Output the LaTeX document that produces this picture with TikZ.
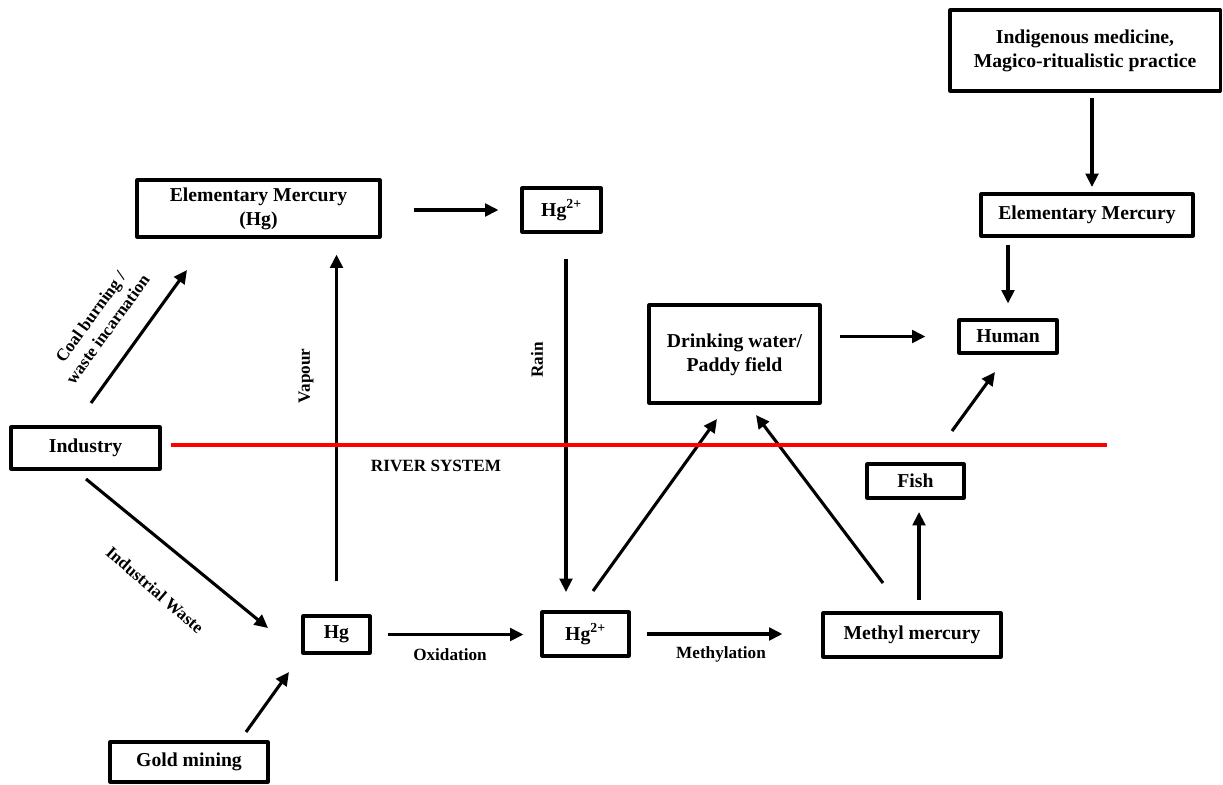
\documentclass[tikz,border=0pt]{standalone}
\usepackage{fontspec}
\setmainfont{Liberation Serif}
\usetikzlibrary{arrows.meta}
\newcommand{\printBox}[6]{\node [cell, minimum width=#3cm, minimum height=#4cm] (#5) at (#1,#2) {#6};}

\begin{document}
\begin{tikzpicture}[x=0.025cm,y=-0.025cm,line join=round,>={Triangle[length=9.5pt,width=9pt]},
    cell/.style={draw=black,line width=2.2pt,align=center,inner sep=0pt,font=\bfseries\fontsize{14}{17}\selectfont},
    lbl/.style={font=\bfseries\fontsize{12.2}{15}\selectfont,align=center,inner sep=0pt},
    arr/.style={->,line width=2.2pt}]
  \useasboundingbox (0,0) rectangle (1223,784);

  % boxes
  \printBox{258.5}{208.5}{6.075}{1.425}{emL}{Elementary Mercury\\(Hg)}
  \printBox{561.5}{210}{1.975}{1.1}{hgTop}{Hg\textsuperscript{2+}}
  \printBox{1085}{50.5}{6.75}{2.025}{indig}{Indigenous medicine,\\Magico-ritualistic practice}
  \printBox{1087}{215}{5.3}{1.05}{emR}{Elementary Mercury}
  \printBox{1008}{336.5}{2.45}{0.825}{human}{Human}
  \printBox{734.5}{354}{4.275}{2.45}{drink}{\rule{0pt}{4mm}Drinking water/\\Paddy field}
  \printBox{85.5}{448}{3.725}{1.05}{industry}{Industry}
  \printBox{915.5}{481}{2.425}{0.85}{fish}{Fish}
  \printBox{336.5}{634.5}{1.675}{0.925}{hgBot}{Hg}
  \printBox{585.5}{634}{2.175}{1.1}{hg2Bot}{Hg\textsuperscript{2+}}
  \printBox{912}{635}{4.45}{1.1}{methyl}{Methyl mercury}
  \printBox{189}{762}{3.95}{1.0}{gold}{Gold mining}

  % free ends
  \foreach \n/\x/\y in {coalA/91/403, coalB/187/270, rainA/566/259, rainB/566/592,
      wasteA/86/479, wasteB/268/628, goldA/246/732, goldB/289/672,
      upA/593/591, upB/717/419, backA/883/583, backB/756/415,
      fishA/919/600, fishB/919/512, eatA/952/431, eatB/995/372,
      medA/1092/98, medB/1092/187, riverA/171/445, riverB/1107/445} {
      \coordinate (\n) at (\x,\y);
    }

  \foreach \a/\b in {coalA/coalB, rainA/rainB, wasteA/wasteB, goldA/goldB,
      upA/upB, backA/backB, fishA/fishB, eatA/eatB, medA/medB} {
      \draw [arr] (\a) -- (\b);
    }

  \draw [arr, shorten <=0.8cm, shorten >=0.55cm] (emL.east |- hgTop.west) -- (hgTop.west);
  \draw [arr, shorten <=0.825cm, shorten >=0.4cm] (hgBot.north) -- (hgBot.north |- emL.south);
  \draw [arr, shorten <=0.4cm, shorten >=0.425cm] (hgBot.east) -- (hgBot.east -| hg2Bot.west);
  \draw [arr, shorten <=0.4cm, shorten >=0.975cm] (hg2Bot.east) -- (hg2Bot.east -| methyl.west);
  \draw [arr, shorten <=0.45cm, shorten >=0.8cm] (drink.east |- human.west) -- (human.west);
  \draw [arr, shorten <=0.175cm, shorten >=0.375cm] (human.north |- emR.south) -- (human.north);

  \draw [red, line width=2.6pt] (riverA) -- (riverB);

  % labels
  \node [lbl, rotate=54] (coalLbl) at (99,323) {Coal burning /\\waste incarnation};
  \node [lbl, rotate=90] (vapourLbl) at (306,376) {Vapour};
  \node [lbl, rotate=90] (rainLbl) at (537,360) {Rain};
  \node [lbl] (riverLbl) at (436,466) {RIVER SYSTEM};
  \node [lbl, rotate=-41] (wasteLbl) at (155,590) {Industrial Waste};
  \node [lbl] (oxLbl) at (450,655) {Oxidation};
  \node [lbl] (methLbl) at (721,654) {Methylation};
\end{tikzpicture}
\end{document}
